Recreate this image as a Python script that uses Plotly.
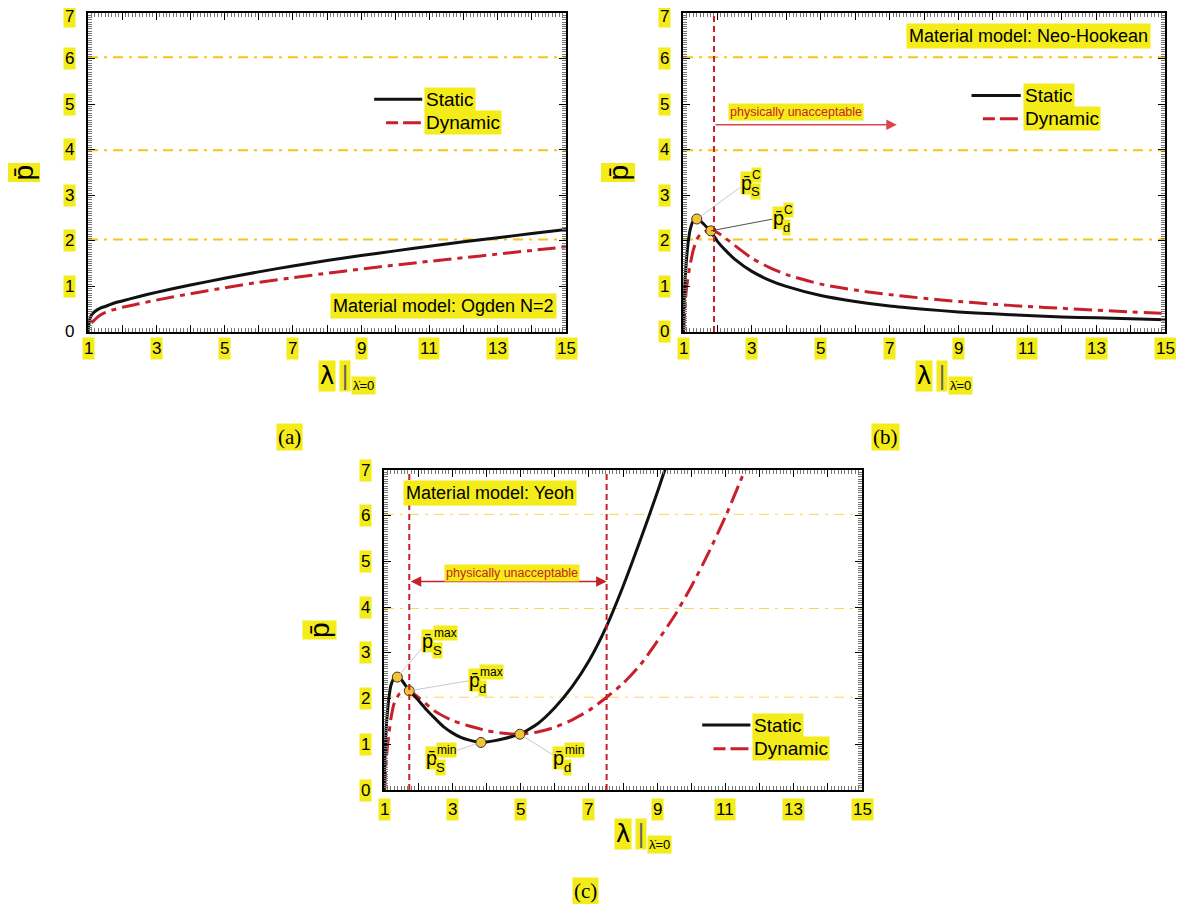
import plotly.graph_objects as go

YEL = '#F3EC19'
RED = '#C8202A'
GOLD = '#F5C518'
DOT = '#F7C52B'
FONT = 'Liberation Sans'

# ---------------- data ----------------
# (a) Ogden N=2
lam_a_static = [1.0, 1.02, 1.05, 1.1, 1.2, 1.35, 1.5, 1.75, 2.0, 2.5, 3, 4, 5, 6, 7, 8, 9, 10, 11, 12, 13, 14, 15]
p_a_static = [0, 0.15, 0.27, 0.37, 0.45, 0.52, 0.56, 0.63, 0.68, 0.78, 0.87, 1.03, 1.18, 1.32, 1.45, 1.57, 1.68, 1.78, 1.88, 1.98, 2.07, 2.16, 2.25]
lam_a_dyn = [1.1, 1.2, 1.3, 1.45, 1.75, 2.0, 2.5, 3, 4, 5, 6, 7, 8, 9, 10, 11, 12, 13, 14, 15]
p_a_dyn = [0.2, 0.27, 0.34, 0.41, 0.49, 0.54, 0.62, 0.70, 0.84, 0.97, 1.09, 1.19, 1.29, 1.38, 1.47, 1.55, 1.63, 1.71, 1.79, 1.87]

# (b) Neo-Hookean
lam_b_static = [1.0, 1.03, 1.06, 1.1, 1.15, 1.2, 1.3, 1.4, 1.5, 1.6, 1.7, 1.81, 2.0, 2.25, 2.5, 3, 3.5, 4, 5, 6, 7, 8, 9, 10, 11, 12, 13, 14, 15]
p_b_static = [0, 0.63, 1.13, 1.58, 1.96, 2.22, 2.44, 2.48, 2.44, 2.37, 2.29, 2.2, 1.99, 1.78, 1.6, 1.33, 1.14, 1.0, 0.80, 0.67, 0.57, 0.50, 0.44, 0.40, 0.36, 0.33, 0.31, 0.29, 0.27]
lam_b_dyn = [1.02, 1.05, 1.1, 1.2, 1.3, 1.4, 1.5, 1.65, 1.81, 2.0, 2.25, 2.5, 3, 3.5, 4, 5, 6, 7, 8, 9, 10, 11, 12, 13, 14, 15]
p_b_dyn = [0, 0.45, 0.95, 1.45, 1.8, 2.03, 2.14, 2.21, 2.23, 2.18, 2.05, 1.9, 1.62, 1.42, 1.26, 1.05, 0.92, 0.82, 0.74, 0.67, 0.61, 0.56, 0.52, 0.48, 0.44, 0.41]

# (c) Yeoh
lam_c_static = [1.0, 1.03, 1.06, 1.1, 1.15, 1.2, 1.28, 1.39, 1.5, 1.74, 2.0, 2.25, 2.5, 2.75, 3.0, 3.25, 3.5, 3.84, 4.0, 4.25, 4.5, 4.75, 4.98, 5.5, 6.0, 6.5, 7.0, 7.5, 8.0, 8.5, 9.0, 9.4]
p_c_static = [0, 0.75, 1.3, 1.7, 2.05, 2.28, 2.43, 2.47, 2.42, 2.17, 1.97, 1.75, 1.56, 1.38, 1.25, 1.15, 1.09, 1.04, 1.05, 1.08, 1.12, 1.17, 1.22, 1.45, 1.8, 2.25, 2.82, 3.55, 4.45, 5.45, 6.5, 7.4]
lam_c_dyn = [1.02, 1.05, 1.1, 1.15, 1.2, 1.3, 1.45, 1.6, 1.74, 2.0, 2.5, 3.0, 3.5, 4.0, 4.5, 4.98, 5.5, 6.0, 6.5, 7.0, 7.52, 8.0, 8.5, 9.0, 9.5, 10.0, 10.5, 11.0, 11.6]
p_c_dyn = [0, 0.5, 0.95, 1.25, 1.55, 1.9, 2.1, 2.16, 2.17, 2.03, 1.72, 1.52, 1.4, 1.3, 1.24, 1.22, 1.27, 1.37, 1.53, 1.74, 2.03, 2.33, 2.73, 3.25, 3.8, 4.45, 5.18, 5.98, 7.05]

# critical points (lambda, p)
crit_b = {'S': (1.40, 2.48), 'd': (1.81, 2.22)}
crit_c = {'Smax': (1.39, 2.47), 'dmax': (1.74, 2.17), 'Smin': (3.84, 1.04), 'dmin': (4.98, 1.22)}

# physically unacceptable bounds
unacc_b = [1.9]
unacc_c = [1.74, 7.52]

guide_levels_ab = [2.03, 3.99, 6.03]
guide_levels_c = [2.03, 3.97, 6.03]

x_ticks = [1, 3, 5, 7, 9, 11, 13, 15]
y_ticks = [0, 1, 2, 3, 4, 5, 6, 7]

# ---------------- figure ----------------
PAGE_MARGIN = 8          # default body margin of the html page
FW, FH = 1184 - 2 * PAGE_MARGIN, 912 - 2 * PAGE_MARGIN


def dx(px):
    return (px - PAGE_MARGIN) / FW


def dy(py):
    return 1 - (py - PAGE_MARGIN) / FH


fig = go.Figure()

panels = [
    dict(x='x', y='y', xd=[dx(88), dx(566)], yd=[dy(332), dy(13)]),
    dict(x='x2', y='y2', xd=[dx(683), dx(1165)], yd=[dy(332), dy(13)]),
    dict(x='x3', y='y3', xd=[dx(384), dx(862)], yd=[dy(790), dy(470)]),
]

series = [
    (lam_a_static, p_a_static, lam_a_dyn, p_a_dyn),
    (lam_b_static, p_b_static, lam_b_dyn, p_b_dyn),
    (lam_c_static, p_c_static, lam_c_dyn, p_c_dyn),
]

DYN_DASH = '18px,6px,5px,6px'

for pn, (ls, ps, ld, pd) in zip(panels, series):
    fig.add_trace(go.Scatter(x=ld, y=pd, mode='lines', xaxis=pn['x'], yaxis=pn['y'],
                             line=dict(color=RED, width=3, dash=DYN_DASH, shape='spline', smoothing=0.6),
                             showlegend=False, name='Dynamic'))
    fig.add_trace(go.Scatter(x=ls, y=ps, mode='lines', xaxis=pn['x'], yaxis=pn['y'],
                             line=dict(color='#111111', width=3, shape='spline', smoothing=0.6),
                             showlegend=False, name='Static'))

# critical markers
fig.add_trace(go.Scatter(x=[v[0] for v in crit_b.values()], y=[v[1] for v in crit_b.values()],
                         mode='markers', xaxis='x2', yaxis='y2', showlegend=False,
                         marker=dict(size=10, color=DOT, line=dict(color='#333', width=1))))
fig.add_trace(go.Scatter(x=[v[0] for v in crit_c.values()], y=[v[1] for v in crit_c.values()],
                         mode='markers', xaxis='x3', yaxis='y3', showlegend=False,
                         marker=dict(size=10, color=DOT, line=dict(color='#333', width=1))))

shapes = []
annotations = []

# guide dash-dot lines
for i, pn in enumerate(panels):
    levels = guide_levels_c if i == 2 else guide_levels_ab
    for lv in levels:
        shapes.append(dict(type='line', xref=pn['x'], yref=pn['y'], x0=1, x1=15, y0=lv, y1=lv,
                           layer='below',
                           line=dict(color=GOLD if i < 2 else '#F7D75A', width=2 if i < 2 else 1,
                                     dash='10px,6px,3px,6px')))

# vertical "physically unacceptable" limits
for lv in unacc_b:
    shapes.append(dict(type='line', xref='x2', yref='y2 domain', x0=lv, x1=lv, y0=0, y1=1,
                       line=dict(color=RED, width=2, dash='6px,4px')))
for lv in unacc_c:
    shapes.append(dict(type='line', xref='x3', yref='y3 domain', x0=lv, x1=lv, y0=0, y1=1,
                       line=dict(color=RED, width=2, dash='6px,4px')))

# tick-label annotations (highlighted)
for i, pn in enumerate(panels):
    for t in x_ticks:
        annotations.append(dict(x=t, y=0, xref=pn['x'], yref=pn['y'], text=str(t), showarrow=False,
                                xanchor='center', yanchor='middle', yshift=-17 if i < 2 else -19,
                                font=dict(family=FONT, size=17, color='black'),
                                bgcolor=YEL, borderpad=1))
    for t in y_ticks:
        annotations.append(dict(x=0, y=t, xref=pn['x'] + ' domain', yref=pn['y'], text=str(t),
                                showarrow=False, xanchor='center', yanchor='middle', xshift=-19,
                                yshift=(-4 if (t == 7 and i < 2) else 0),
                                font=dict(family=FONT, size=17, color='black'),
                                bgcolor=(None if (i == 0 and t == 0) else YEL), borderpad=1))
    # axis titles
    annotations.append(dict(x=0.5, y=0, xref=pn['x'] + ' domain', yref=pn['y'] + ' domain',
                            text='λ', showarrow=False, xanchor='center', yanchor='middle',
                            yshift=-44, xshift=0,
                            font=dict(family='DejaVu Sans', size=24, color='black'), bgcolor=YEL))
    annotations.append(dict(x=0.5, y=0, xref=pn['x'] + ' domain', yref=pn['y'] + ' domain',
                            text='|', showarrow=False, xanchor='center', yanchor='middle',
                            yshift=-44, xshift=18,
                            font=dict(family='DejaVu Sans', size=24, color='#666'), bgcolor=YEL))
    annotations.append(dict(x=0.5, y=0, xref=pn['x'] + ' domain', yref=pn['y'] + ' domain',
                            text='λ̇=0', showarrow=False, xanchor='center', yanchor='middle',
                            yshift=-54, xshift=36,
                            font=dict(family=FONT, size=13, color='black'), bgcolor=YEL))
    annotations.append(dict(x=0, y=0.5, xref=pn['x'] + ' domain', yref=pn['y'] + ' domain',
                            text='p̄', showarrow=False, xanchor='center', yanchor='middle',
                            xshift=-65, textangle=-90,
                            font=dict(family=FONT, size=28, color='black'), bgcolor=YEL))

# legends (line samples + highlighted text)
legend_pos = [
    # xa, ya, static line x0,x1,y ; dynamic line x0,x1,y ; text x
    ('x', 'y', 9.38, 10.79, 5.11, 9.73, 10.75, 4.59, 10.85),
    ('x2', 'y2', 9.38, 10.81, 5.19, 9.71, 10.76, 4.68, 10.87),
    ('x3', 'y3', 10.32, 11.73, 1.42, 10.65, 11.71, 0.90, 11.79),
]
for xa, ya, s0, s1, sy, d0, d1, dyv, tx in legend_pos:
    shapes.append(dict(type='line', xref=xa, yref=ya, x0=s0, x1=s1, y0=sy, y1=sy,
                       line=dict(color='#111', width=3)))
    shapes.append(dict(type='line', xref=xa, yref=ya, x0=d0, x1=d1, y0=dyv, y1=dyv,
                       line=dict(color=RED, width=3, dash='12px,5px,18px,5px')))
    annotations.append(dict(x=tx, y=sy, xref=xa, yref=ya, text='Static', showarrow=False,
                            xanchor='left', yanchor='middle',
                            font=dict(family=FONT, size=19, color='black'),
                            bgcolor=YEL, borderpad=1))
    annotations.append(dict(x=tx, y=dyv, xref=xa, yref=ya, text='Dynamic', showarrow=False,
                            xanchor='left', yanchor='middle',
                            font=dict(family=FONT, size=19, color='black'),
                            bgcolor=YEL, borderpad=1))

# material-model labels
models = [
    ('x', 'y', 14.75, 0.57, 'right', 'Material model: Ogden N=2'),
    ('x2', 'y2', 14.6, 6.49, 'right', 'Material model: Neo-Hookean'),
    ('x3', 'y3', 1.57, 6.49, 'left', 'Material model: Yeoh'),
]
for xa, ya, xv, yv, anc, txt in models:
    annotations.append(dict(x=xv, y=yv, xref=xa, yref=ya, text=txt, showarrow=False, xanchor=anc,
                            yanchor='middle',
                            font=dict(family=FONT, size=18, color='black'), bgcolor=YEL, borderpad=2))

# physically unacceptable arrows + text
annotations.append(dict(x=7.21, y=4.55, ax=1.9, ay=4.55, xref='x2', yref='y2', axref='x2', ayref='y2',
                        text='', showarrow=True, arrowhead=2, arrowsize=1.4, arrowwidth=1.5,
                        arrowcolor='#D9464E'))
annotations.append(dict(x=4.28, y=4.82, xref='x2', yref='y2', text='physically unacceptable',
                        showarrow=False, xanchor='center', yanchor='middle',
                        font=dict(family=FONT, size=12.5, color=RED), bgcolor=YEL))
annotations.append(dict(x=7.52, y=4.56, ax=1.74, ay=4.56, xref='x3', yref='y3', axref='x3', ayref='y3',
                        text='', showarrow=True, arrowhead=2, startarrowhead=2, arrowside='end+start',
                        arrowsize=1.4, startarrowsize=1.4, arrowwidth=1.5, arrowcolor=RED))
annotations.append(dict(x=4.75, y=4.74, xref='x3', yref='y3', text='physically unacceptable',
                        showarrow=False, xanchor='center', yanchor='middle',
                        font=dict(family=FONT, size=12.5, color=RED), bgcolor=YEL))

# point labels with leader lines
point_labels = [
    # xa, ya, point, label position, sup, sub, leader color
    ('x2', 'y2', crit_b['S'], (2.84, 3.27), 'C', 'S', '#BBBBBB'),
    ('x2', 'y2', crit_b['d'], (3.76, 2.50), 'C', 'd', '#222222'),
    ('x3', 'y3', crit_c['Smax'], (2.28, 3.25), 'max', 'S', '#BBBBBB'),
    ('x3', 'y3', crit_c['dmax'], (3.65, 2.41), 'max', 'd', '#BBBBBB'),
    ('x3', 'y3', crit_c['Smin'], (2.39, 0.69), 'min', 'S', '#BBBBBB'),
    ('x3', 'y3', crit_c['dmin'], (6.12, 0.69), 'min', 'd', '#BBBBBB'),
]
for xa, ya, (px, py), (lx, ly), sup, sub, col in point_labels:
    annotations.append(dict(x=px, y=py, ax=lx, ay=ly, xref=xa, yref=ya, axref=xa, ayref=ya,
                            text='p̄', showarrow=True, arrowhead=0, arrowwidth=0.8, arrowcolor=col,
                            font=dict(family=FONT, size=20, color='black'), bgcolor=YEL, borderpad=0))
    annotations.append(dict(x=lx, y=ly, xref=xa, yref=ya, text=sup, showarrow=False, xanchor='left',
                            yanchor='middle', xshift=5, yshift=8,
                            font=dict(family=FONT, size=12, color='black'),
                            bgcolor=YEL, borderpad=0))
    annotations.append(dict(x=lx, y=ly, xref=xa, yref=ya, text=sub, showarrow=False, xanchor='left',
                            yanchor='middle', xshift=4, yshift=-9,
                            font=dict(family=FONT, size=13, color='black'),
                            bgcolor=YEL, borderpad=0))

# captions
for cx, cy, txt in [(289, 437, '(a)'), (885, 437, '(b)'), (585, 891, '(c)')]:
    annotations.append(dict(x=dx(cx), y=dy(cy), xref='paper', yref='paper', text=txt, showarrow=False,
                            xanchor='center', yanchor='middle',
                            font=dict(family='Liberation Serif', size=21, color='black'), bgcolor=YEL))


# axes
def xaxis(dom, anchor):
    return dict(domain=dom, anchor=anchor, range=[1, 15], showticklabels=False, ticks='inside',
                ticklen=7, tickwidth=1, tickcolor='black', tick0=1, dtick=1, showline=True,
                linewidth=1.5, linecolor='black', mirror='ticks', showgrid=False, zeroline=False,
                minor=dict(ticks='inside', ticklen=4, tickcolor='#777', tick0=1, dtick=0.1, showgrid=False))


def yaxis(dom, anchor):
    return dict(domain=dom, anchor=anchor, range=[0, 7], showticklabels=False, ticks='inside',
                ticklen=7, tickwidth=1, tickcolor='black', tick0=0, dtick=1, showline=True,
                linewidth=1.5, linecolor='black', mirror='ticks', showgrid=False, zeroline=False,
                minor=dict(ticks='inside', ticklen=4, tickcolor='#777', tick0=0, dtick=0.05, showgrid=False))


fig.update_layout(
    width=FW, height=FH, margin=dict(l=0, r=0, t=0, b=0),
    paper_bgcolor='white', plot_bgcolor='white', showlegend=False,
    xaxis=xaxis(panels[0]['xd'], 'y'), yaxis=yaxis(panels[0]['yd'], 'x'),
    xaxis2=xaxis(panels[1]['xd'], 'y2'), yaxis2=yaxis(panels[1]['yd'], 'x2'),
    xaxis3=xaxis(panels[2]['xd'], 'y3'), yaxis3=yaxis(panels[2]['yd'], 'x3'),
    shapes=shapes, annotations=annotations,
)

fig.write_html('out.html')
